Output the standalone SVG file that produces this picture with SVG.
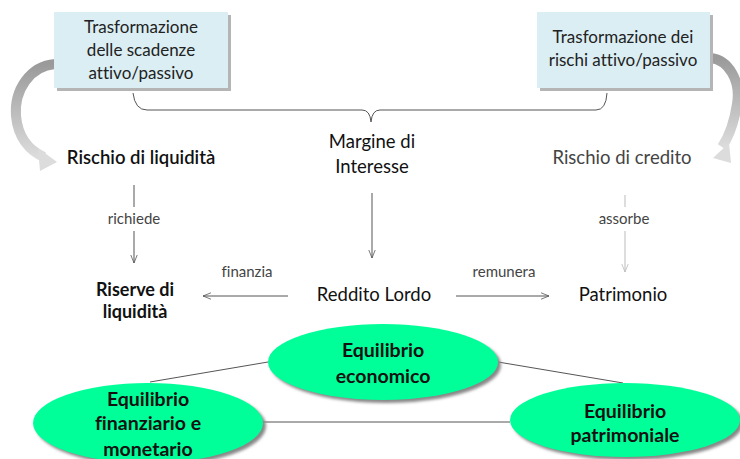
<svg xmlns="http://www.w3.org/2000/svg" width="740" height="459" viewBox="0 0 740 459">
<defs>
<linearGradient id="gl" x1="0" y1="0" x2="0" y2="1"><stop offset="0" stop-color="#9a9a9a"/><stop offset="1" stop-color="#dcdcdc"/></linearGradient>
<linearGradient id="gr" x1="0" y1="0" x2="0" y2="1"><stop offset="0" stop-color="#9a9a9a"/><stop offset="1" stop-color="#dcdcdc"/></linearGradient>
<filter id="sh" x="-10%" y="-10%" width="130%" height="130%"><feGaussianBlur stdDeviation="1.5"/></filter>
<marker id="ah" viewBox="0 0 10 10" refX="10" refY="5" markerWidth="8" markerHeight="8" orient="auto" markerUnits="userSpaceOnUse"><path d="M0,1 L10,5 L0,9" fill="none" stroke="#555" stroke-width="1"/></marker>
<marker id="ahl" viewBox="0 0 10 10" refX="10" refY="5" markerWidth="8" markerHeight="8" orient="auto" markerUnits="userSpaceOnUse"><path d="M0,1 L10,5 L0,9" fill="none" stroke="#bbb" stroke-width="1"/></marker>
</defs>
<style>
text{font-family:Lato,"Open Sans","Liberation Sans",sans-serif;text-anchor:middle;font-variant-ligatures:none}
.bx{fill:#daeef3}
.bs{fill:#b5b5b5}
.bt{font-size:17px;fill:#222}
.nt{font-size:18.5px;fill:#111}
.lb{font-size:15px;fill:#444}
.ln{stroke:#555;stroke-width:1;fill:none}
.el{fill:#00ff99}
.es{fill:#888}
.et{font-size:19.5px;font-weight:bold;fill:#111}
</style>
<g id="connectors">
<path class="ln" d="M133,93 Q135,110 147,110 L362,110 Q370,110 371,122 Q372,110 380,110 L596,110 Q606,110 607,93"/>
<path d="M55,64 C30,66 14,90 16,116 C18,138 30,151 44,157" fill="none" stroke="url(#gl)" stroke-width="10"/>
<polygon points="38,148 57,162 40,171" fill="#dcdcdc"/>
<path d="M711,58 C728,60 741,80 737,104 C734,124 728,138 722,147" fill="none" stroke="url(#gr)" stroke-width="10"/>
<polygon points="729,143 713,158 731,163" fill="#dcdcdc"/>
<path class="ln" d="M134,185 V207 M134,231 V263" marker-end="url(#ah)"/>
<path class="ln" d="M372,193 V258" marker-end="url(#ah)"/>
<path d="M625,195 V207 M625,231 V272" stroke="#bbb" fill="none" marker-end="url(#ahl)"/>
<path class="ln" d="M288,296 H203" marker-end="url(#ah)"/>
<path class="ln" d="M456,296 H549" marker-end="url(#ah)"/>
<path class="ln" d="M150,382 L268,362 M498,362 L623,383 M262,422 L510,422"/>
</g>
<g id="box-scadenze">
<rect class="bs" x="57" y="15" width="174" height="76"/>
<rect class="bx" x="54" y="12" width="174" height="76"/>
<text class="bt" x="141" y="33">Trasformazione</text>
<text class="bt" x="141" y="56">delle scadenze</text>
<text class="bt" x="141" y="79">attivo/passivo</text>
</g>
<g id="box-rischi">
<rect class="bs" x="540" y="15" width="173" height="76"/>
<rect class="bx" x="537" y="12" width="173" height="76"/>
<text class="bt" x="623" y="43">Trasformazione dei</text>
<text class="bt" x="623" y="66">rischi attivo/passivo</text>
</g>
<g id="rischio-liquidita"><text class="nt" x="141" y="164" style="font-weight:600">Rischio di liquidità</text></g>
<g id="margine"><text class="nt" x="372" y="148">Margine di</text><text class="nt" x="372" y="173">Interesse</text></g>
<g id="rischio-credito"><text class="nt" x="622" y="164" style="fill:#444">Rischio di credito</text></g>
<g id="lbl-richiede"><text class="lb" x="134" y="224">richiede</text></g>
<g id="lbl-assorbe"><text class="lb" x="624" y="224">assorbe</text></g>
<g id="lbl-finanzia"><text class="lb" x="247" y="277">finanzia</text></g>
<g id="lbl-remunera"><text class="lb" x="504" y="277">remunera</text></g>
<g id="riserve"><text class="nt" x="135" y="296" style="font-weight:bold;font-size:18px">Riserve di</text><text class="nt" x="135" y="318" style="font-weight:bold;font-size:18px">liquidità</text></g>
<g id="reddito"><text class="nt" x="374" y="301">Reddito Lordo</text></g>
<g id="patrimonio"><text class="nt" x="623" y="301">Patrimonio</text></g>
<g id="eq-economico">
<ellipse class="es" cx="386" cy="365" rx="115" ry="38" filter="url(#sh)"/>
<ellipse class="el" cx="383" cy="362" rx="115" ry="38"/>
<text class="et" x="383" y="357">Equilibrio</text>
<text class="et" x="383" y="383">economico</text>
</g>
<g id="eq-finanziario">
<ellipse class="es" cx="151" cy="426" rx="115" ry="40" filter="url(#sh)"/>
<ellipse class="el" cx="148" cy="423" rx="115" ry="40"/>
<text class="et" x="148" y="406">Equilibrio</text>
<text class="et" x="148" y="430">finanziario e</text>
<text class="et" x="148" y="456">monetario</text>
</g>
<g id="eq-patrimoniale">
<ellipse class="es" cx="628" cy="423" rx="115" ry="37" filter="url(#sh)"/>
<ellipse class="el" cx="625" cy="420" rx="115" ry="37"/>
<text class="et" x="625" y="418">Equilibrio</text>
<text class="et" x="625" y="442">patrimoniale</text>
</g>
</svg>
